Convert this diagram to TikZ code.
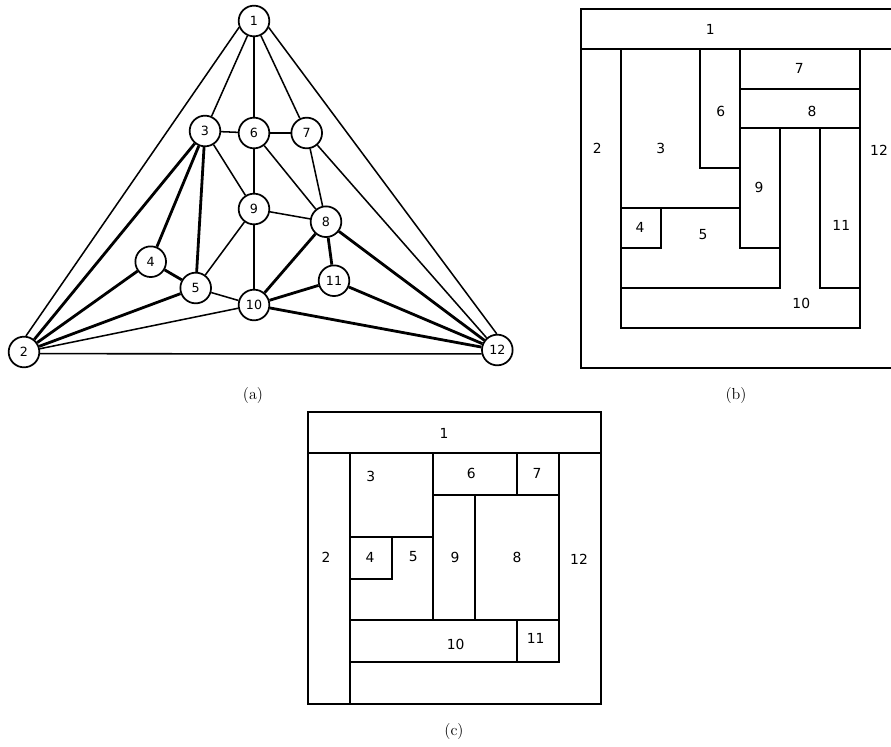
\documentclass[tikz,border=0pt]{standalone}
\usepackage{fontspec}
\newfontfamily\lab{DejaVu Sans}
\tikzset{
  gnode/.style={circle,draw=black,line width=1.3pt,fill=white,minimum size=23pt,inner sep=0pt,font=\lab\fontsize{9.5}{10}\selectfont},
  thinedge/.style={draw=black,line width=1.15pt},
  thickedge/.style={draw=black,line width=2.1pt},
  wall/.style={draw=black,line width=1.4pt,line cap=rect},
  roomlabel/.style={inner sep=0pt,font=\lab\fontsize{10.4}{12}\selectfont},
  caption/.style={inner sep=0pt,font=\fontsize{12}{14}\selectfont},
}
\begin{document}
\begin{tikzpicture}[x=0.75pt,y=-0.75pt]
\useasboundingbox (0,0) rectangle (891,746);
% graph (a)
\foreach \n/\px/\py in {1/254/21,2/24/352,3/205/131,4/150.7/261.7,5/195.7/288,6/254/133,7/306.7/133,8/326/221.7,9/254/209,10/254/305,11/334/280.7,12/497.3/350}
  \node[gnode] (n\n) at (\px,\py) {\n};
\foreach \a/\b in {1/3,1/6,1/7,3/6,6/7,3/9,6/9,6/8,7/8,7/12,9/8,9/5,9/10,5/10,10/2}
  \draw[thinedge] (n\a) -- (n\b);
\draw[thinedge] (n1.203) -- (n2.83);
\draw[thinedge] (n1.336) -- (n12.92);
\draw[thinedge] (n2.-6) -- (n12.194);
\foreach \a/\b in {3/2,3/4,3/5,4/2,4/5,5/2,8/10,8/11,8/12,10/11,11/12,10/12}
  \draw[thickedge] (n\a) -- (n\b);
\node[caption] (capa) at (253,396) {(a)};
% floorplan (b)
\draw[wall] (580.7,9.3) rectangle (899,367.7);
\draw[wall] (580.7,49) -- (899,49);
\draw[wall] (620.9,49) -- (620.9,327.7) -- (859.7,327.7) -- (859.7,49);
\draw[wall] (700,49) -- (700,168.3) -- (740,168.3);
\draw[wall] (740,49) -- (740,248) -- (780,248);
\draw[wall] (740,88.7) -- (859.7,88.7);
\draw[wall] (740,128.3) -- (859.7,128.3);
\draw[wall] (780,128.3) -- (780,288) -- (620.9,288);
\draw[wall] (820,128.3) -- (820,288) -- (859.7,288);
\draw[wall] (620.9,208.3) -- (740,208.3);
\draw[wall] (660.7,208.3) -- (660.7,248) -- (620.9,248);
\foreach \n/\px/\py in {1/710.3/29.3,2/597.3/148.3,3/660.7/148.3,4/640/227.5,5/703/234.5,6/720.7/111.5,7/799.3/68,8/812/111.5,9/759/187.5,10/801.3/303,11/841.3/225.5,12/879/150.5}
  \node[roomlabel] (b\n) at (\px,\py) {\n};
\node[caption] (capb) at (736,396) {(b)};
% floorplan (c)
\draw[wall] (308,412) rectangle (600.7,703.7);
\draw[wall] (308,453.3) -- (600.7,453.3);
\draw[wall] (350,453.3) -- (350,703.7);
\draw[wall] (558.7,453.3) -- (558.7,662.3) -- (350,662.3);
\draw[wall] (433.3,453.3) -- (433.3,620.3);
\draw[wall] (433.3,495) -- (558.7,495);
\draw[wall] (517,453.3) -- (517,495);
\draw[wall] (350,537) -- (433.3,537);
\draw[wall] (391.7,537) -- (391.7,578.7) -- (350,578.7);
\draw[wall] (475,495) -- (475,620.3);
\draw[wall] (350,620.3) -- (558.7,620.3);
\draw[wall] (517,620.3) -- (517,662.3);
\foreach \n/\px/\py in {1/444/433.3,2/326/557,3/370.7/476.3,4/370/557.3,5/413.3/557,6/471.3/473,7/537/473,8/517/557,9/455/557,10/455.7/644.3,11/535.7/638.3,12/579/559.3}
  \node[roomlabel] (c\n) at (\px,\py) {\n};
\node[caption] (capc) at (454,731.5) {(c)};
\end{tikzpicture}
\end{document}
